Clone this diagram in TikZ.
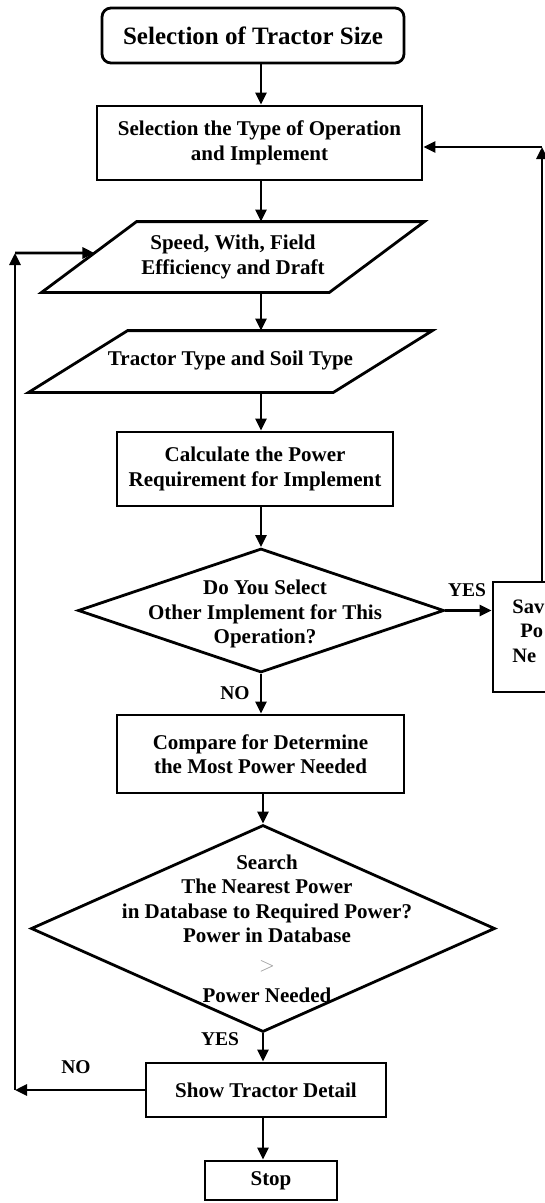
\documentclass[tikz,border=0pt]{standalone}
\usepackage{fontspec}
\setmainfont{Liberation Serif}
\usetikzlibrary{arrows.meta,shapes.geometric,calc}
\begin{document}
\begin{tikzpicture}[x=1pt,y=-1pt,line width=2.8pt,
  every node/.style={font=\bfseries\fontsize{21}{24.5}\selectfont, align=center, inner sep=0pt},
  proc/.style={draw, line width=2.8pt},
  lbl/.style={font=\bfseries\fontsize{19.5}{22}\selectfont},
  arr/.style={-{Triangle[length=12pt,width=11pt]}, line width=2.8pt},
  dec/.style={diamond, draw, line width=2.8pt, inner sep=0pt}
]
\fill[white] (0,0) rectangle (545,1203);
\useasboundingbox (0,0) rectangle (545,1203);
\begin{scope}
\clip (0,0) rectangle (545,1203);

\coordinate (col) at (261,0);

\node[proc, rounded corners=9pt, minimum width=302pt, minimum height=55pt,
      font=\bfseries\fontsize{25}{28}\selectfont] (start) at (253,35.5) {Selection of Tractor Size};

\node[proc, minimum width=325pt, minimum height=74pt] (box2) at (259.5,143)
  {Selection the Type of Operation\\and Implement};

% parallelogram 1
\node[minimum width=380pt, minimum height=68pt] (p1) at (233,257)
  {Speed, With, Field\\Efficiency and Draft};
\coordinate (p1a) at ($(p1.north west)+(95,0)$);
\coordinate (p1c) at ($(p1.south east)+(-95,0)$);
\draw (p1a) -- (p1.north east) -- (p1c) -- (p1.south west) -- cycle;

% parallelogram 2
\node[minimum width=401pt, minimum height=59pt] (p2) at (230.5,361.5)
  {\raisebox{6pt}{Tractor Type and Soil Type}};
\coordinate (p2a) at ($(p2.north west)+(99,0)$);
\coordinate (p2c) at ($(p2.south east)+(-99,0)$);
\draw (p2a) -- (p2.north east) -- (p2c) -- (p2.south west) -- cycle;

\node[proc, minimum width=276pt, minimum height=74pt] (box3) at (255,469)
  {Calculate the Power\\Requirement for Implement};

\node[dec, minimum width=366pt, minimum height=124pt] (d1) at (261,610.5) {};
\node (d1t) at (265,614) {Do You Select\\Other Implement for This\\Operation?};

\node[proc, minimum width=120pt, minimum height=110pt] (save) at (553,637) {};
\node[anchor=west, align=left, font=\bfseries\fontsize{20.5}{24.5}\selectfont] (savet) at (511,631)
  {Sav\\\hspace*{8pt}Po\\Ne};

\node[proc, minimum width=287pt, minimum height=78pt] (box4) at (260.5,754)
  {Compare for Determine\\the Most Power Needed};

\node[dec, minimum width=464pt, minimum height=207pt] (d2) at (263,928.5) {};
\node (d2t) at (267,929) {Search\\The Nearest Power\\in Database to Required Power?\\Power in Database\\[4pt]
  {\mdseries\color[gray]{0.6}$>$}\\[7pt]Power Needed};

\node[proc, minimum width=240pt, minimum height=54pt] (box5) at (266,1090) {Show Tractor Detail};

\node[proc, minimum width=132pt, minimum height=39pt] (stop) at (271,1180.5) {Stop};

% labels
\node[lbl] (yes1) at (467,590) {YES};
\node[lbl] (no1) at (235,693) {NO};
\node[lbl] (yes2) at (220,1039) {YES};
\node[lbl] (no2) at (76,1067) {NO};

% main column connectors
\draw[arr] (start.south -| col) -- (box2.north -| col);
\draw[arr] (box2.south -| col) -- (p1.north -| col);
\draw[arr] (p1.south -| col) -- (p2.north -| col);
\draw[arr] (p2.south -| col) -- (box3.north -| col);
\draw[arr] (box3.south -| d1.north) -- (d1.north);
\draw[arr] (d1.south) -- (box4.north -| d1.south);
\draw[arr] (box4.south -| d2.north) -- (d2.north);
\draw[arr] (d2.south) -- (box5.north -| d2.south);
\draw[arr] (box5.south -| d2.south) -- (stop.north -| d2.south);
\draw[arr] (d1.east) -- (save.west |- d1.east);

% right loop back to box2
\coordinate (rtop) at (542,147);
\draw[arr] (save.north -| rtop) -- (rtop);
\draw[arr] (rtop) -- (rtop -| box2.east);

% left loop back to p1
\coordinate (ltop) at (15,253);
\coordinate (lbot) at (box5.west -| ltop);
\coordinate (ltopr) at (ltop -| p1.east);
\draw[arr] (box5.west) -- (lbot);
\draw[arr] (lbot) -- (ltop);
\draw[arr] (ltop) -- (intersection of p1a--p1.south west and ltop--ltopr);
\end{scope}
\end{tikzpicture}
\end{document}
